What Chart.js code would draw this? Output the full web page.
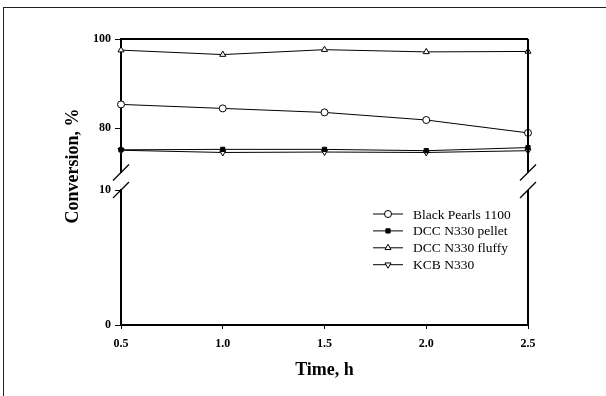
<!DOCTYPE html>
<html>
<head>
<meta charset="utf-8">
<script src="https://cdn.jsdelivr.net/npm/chart.js@4"></script>
<style>
  body { margin: 0; background: #fff; }
  #wrap { position: relative; width: 606px; height: 396px; }
  #frame { position: absolute; left: 3px; top: 7px; right: 0; bottom: 0;
           border-top: 1px solid #222; border-left: 1px solid #222; pointer-events: none; }
</style>
</head>
<body>
<div id="wrap">
  <canvas id="myChart" width="606" height="396"></canvas>
  <div id="frame"></div>
</div>
<script>
// time points (h)
var times = [0.5, 1.0, 1.5, 2.0, 2.5];
// conversion, %
var blackPearls = [85.3, 84.4, 83.5, 81.8, 78.9];
var dccPellet   = [75.1, 75.2, 75.2, 74.9, 75.6];
var dccFluffy   = [97.5, 96.5, 97.6, 97.1, 97.2];
var kcbN330     = [75.0, 74.5, 74.6, 74.5, 74.9];

var xTicks = [0.5, 1.0, 1.5, 2.0, 2.5];
var topTicks = [80, 100];
var lowTicks = [0, 10];

var seriesNames = ['Black Pearls 1100', 'DCC N330 pellet', 'DCC N330 fluffy', 'KCB N330'];

function pts(arr) {
    return arr.map(function (v, i) { return {x: times[i], y: v}; });
}

var serif = '"Liberation Serif", "Times New Roman", serif';

function ds(label, arr, style, fill, rot, r) {
    return {
        label: label,
        data: pts(arr),
        yAxisID: 'yTop',
        borderColor: '#000',
        borderWidth: 1,
        pointStyle: style,
        pointRotation: rot || 0,
        pointRadius: r,
        pointBackgroundColor: fill,
        pointBorderColor: '#000',
        pointBorderWidth: 1,
        clip: false,
        tension: 0
    };
}

/* frame, axis breaks, legend, y title */
var extras = {
    id: 'extras',
    afterDraw: function (chart) {
        var c = chart.ctx;
        var a = chart.chartArea;
        var yt = chart.scales.yTop, yl = chart.scales.yLow;
        c.save();
        c.strokeStyle = '#000';
        c.lineWidth = 2;
        c.beginPath();
        c.moveTo(a.left, yt.top);
        c.lineTo(a.right, yt.top);
        c.moveTo(a.right, yt.top);
        c.lineTo(a.right, yt.bottom);
        c.moveTo(a.right, yl.top);
        c.lineTo(a.right, yl.bottom);
        c.stroke();

        // break marks
        c.lineWidth = 1.2;
        [a.left, a.right].forEach(function (x) {
            [yt.bottom, yl.top].forEach(function (y) {
                c.beginPath();
                c.moveTo(x - 8, y + 8);
                c.lineTo(x + 8, y - 8);
                c.stroke();
            });
        });

        // legend
        var lx = 373, ly = 214, step = 16.9;
        c.font = '13.5px ' + serif;
        c.textBaseline = 'middle';
        c.fillStyle = '#000';
        chart.data.datasets.forEach(function (d, i) {
            var y = ly + i * step;
            c.lineWidth = 1;
            c.beginPath();
            c.moveTo(lx, y);
            c.lineTo(lx + 30, y);
            c.stroke();
            c.fillStyle = d.pointBackgroundColor;
            Chart.helpers.drawPoint(c, {
                pointStyle: d.pointStyle, rotation: d.pointRotation,
                radius: d.pointRadius, borderWidth: 1
            }, lx + 15, y);
            c.fillStyle = '#000';
            c.fillText(d.label, 413, y + 1);
        });

        // y title
        c.translate(73, 166);
        c.rotate(-Math.PI / 2);
        c.font = 'bold 18px ' + serif;
        c.textAlign = 'center';
        c.fillText('Conversion, %', 0, 0);
        c.restore();
    }
};

function yAxis(min, max, weight, ticks, show) {
    return {
        type: 'linear',
        position: 'left',
        stack: 'y',
        stackWeight: weight,
        min: min,
        max: max,
        afterBuildTicks: function (s) {
            s.ticks = ticks.map(function (v) { return {value: v}; });
        },
        afterFit: function (s) { s.width = 121; },
        border: {display: show, color: '#000', width: 2},
        grid: {display: show, drawOnChartArea: false, tickLength: 6, color: '#000'},
        ticks: {display: show, padding: 4, color: '#000',
                font: {family: serif, size: 12, weight: 'bold'}}
    };
}

var ctx = document.querySelector('#myChart').getContext('2d');
var myChart = new Chart(ctx, {
    type: 'line',
    data: {
        datasets: [
            ds(seriesNames[0], blackPearls, 'circle', '#fff', 0, 3.5),
            ds(seriesNames[1], dccPellet, 'rect', '#000', 0, 3),
            ds(seriesNames[2], dccFluffy, 'triangle', '#fff', 0, 3.5),
            ds(seriesNames[3], kcbN330, 'triangle', '#fff', 180, 3.5)
        ]
    },
    options: {
        responsive: false,
        animation: false,
        layout: {padding: {left: 0, right: 78, top: 39, bottom: 0}},
        plugins: {legend: {display: false}, tooltip: {enabled: false}},
        scales: {
            x: {
                type: 'linear',
                min: 0.5,
                max: 2.5,
                afterBuildTicks: function (s) {
                    s.ticks = xTicks.map(function (v) { return {value: v}; });
                },
                afterFit: function (s) { s.height = 71; },
                border: {color: '#000', width: 2},
                grid: {drawOnChartArea: false, tickLength: 4, color: '#000'},
                ticks: {
                    padding: 8, color: '#000',
                    font: {family: serif, size: 12, weight: 'bold'},
                    callback: function (v) { return v.toFixed(1); }
                },
                title: {
                    display: true, text: 'Time, h', color: '#000',
                    font: {family: serif, size: 18, weight: 'bold'},
                    padding: {top: 4, bottom: 15}
                }
            },
            yLow: yAxis(0, 10, 135, lowTicks, true),
            yGap: yAxis(10, 70, 17.5, [], false),
            yTop: yAxis(70, 100, 133.5, topTicks, true)
        }
    },
    plugins: [extras]
});
</script>
</body>
</html>
